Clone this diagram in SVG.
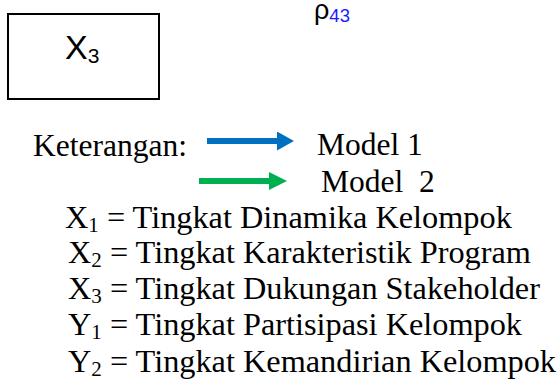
<svg xmlns="http://www.w3.org/2000/svg" width="557" height="381" viewBox="0 0 557 381">
<style>
.serif{font-family:"Liberation Serif","Times New Roman",serif;font-size:31.5px;fill:#000;white-space:pre}
.item{font-size:32.3px}
.sans{font-family:"Liberation Sans",Arial,sans-serif;fill:#000}
.sub{font-size:21px}
.box{fill:#fff;stroke:#000;stroke-width:2}
</style>
<defs>
<marker id="headBlue" markerUnits="userSpaceOnUse" viewBox="0 0 17 19" refX="0" refY="9.5" markerWidth="17" markerHeight="19" orient="auto">
<polygon points="0,0 17,9.5 0,19" fill="#0070C0"/>
</marker>
<marker id="headGreen" markerUnits="userSpaceOnUse" viewBox="0 0 18 18" refX="0" refY="9" markerWidth="18" markerHeight="18" orient="auto">
<polygon points="0,0 18,9 0,18" fill="#00B050"/>
</marker>
</defs>
<rect width="557" height="381" fill="#fff"/>
<g id="node-x3">
<rect class="box" x="8" y="14" width="151" height="85"/>
<text class="sans" x="65" y="59" font-size="34">X<tspan font-size="21" dy="4">3</tspan></text>
</g>
<g id="label-rho43">
<text class="sans" x="314" y="19" font-size="27">ρ<tspan font-size="18.5" fill="#1a1aff" dy="3">43</tspan></text>
</g>
<g id="connectors">
<line x1="207" y1="141" x2="277" y2="141" stroke="#0070C0" stroke-width="6" marker-end="url(#headBlue)"/>
<line x1="199" y1="181" x2="269" y2="181" stroke="#00B050" stroke-width="6" marker-end="url(#headGreen)"/>
</g>
<g id="legend">
<text class="serif" x="33" y="156">Keterangan:</text>
<text class="serif" x="317" y="155">Model 1</text>
<text class="serif" x="321" y="192">Model  2</text>
<text class="serif item" x="65" y="228">X<tspan class="sub" dy="4">1</tspan><tspan dy="-4"> = Tingkat Dinamika Kelompok</tspan></text>
<text class="serif item" x="68" y="263">X<tspan class="sub" dy="4">2</tspan><tspan dy="-4"> = Tingkat Karakteristik Program</tspan></text>
<text class="serif item" x="68" y="299">X<tspan class="sub" dy="4">3</tspan><tspan dy="-4"> = Tingkat Dukungan Stakeholder</tspan></text>
<text class="serif item" x="68" y="335">Y<tspan class="sub" dy="4">1</tspan><tspan dy="-4"> = Tingkat Partisipasi Kelompok</tspan></text>
<text class="serif item" x="68" y="372">Y<tspan class="sub" dy="4">2</tspan><tspan dy="-4"> = Tingkat Kemandirian Kelompok</tspan></text>
</g>
</svg>
